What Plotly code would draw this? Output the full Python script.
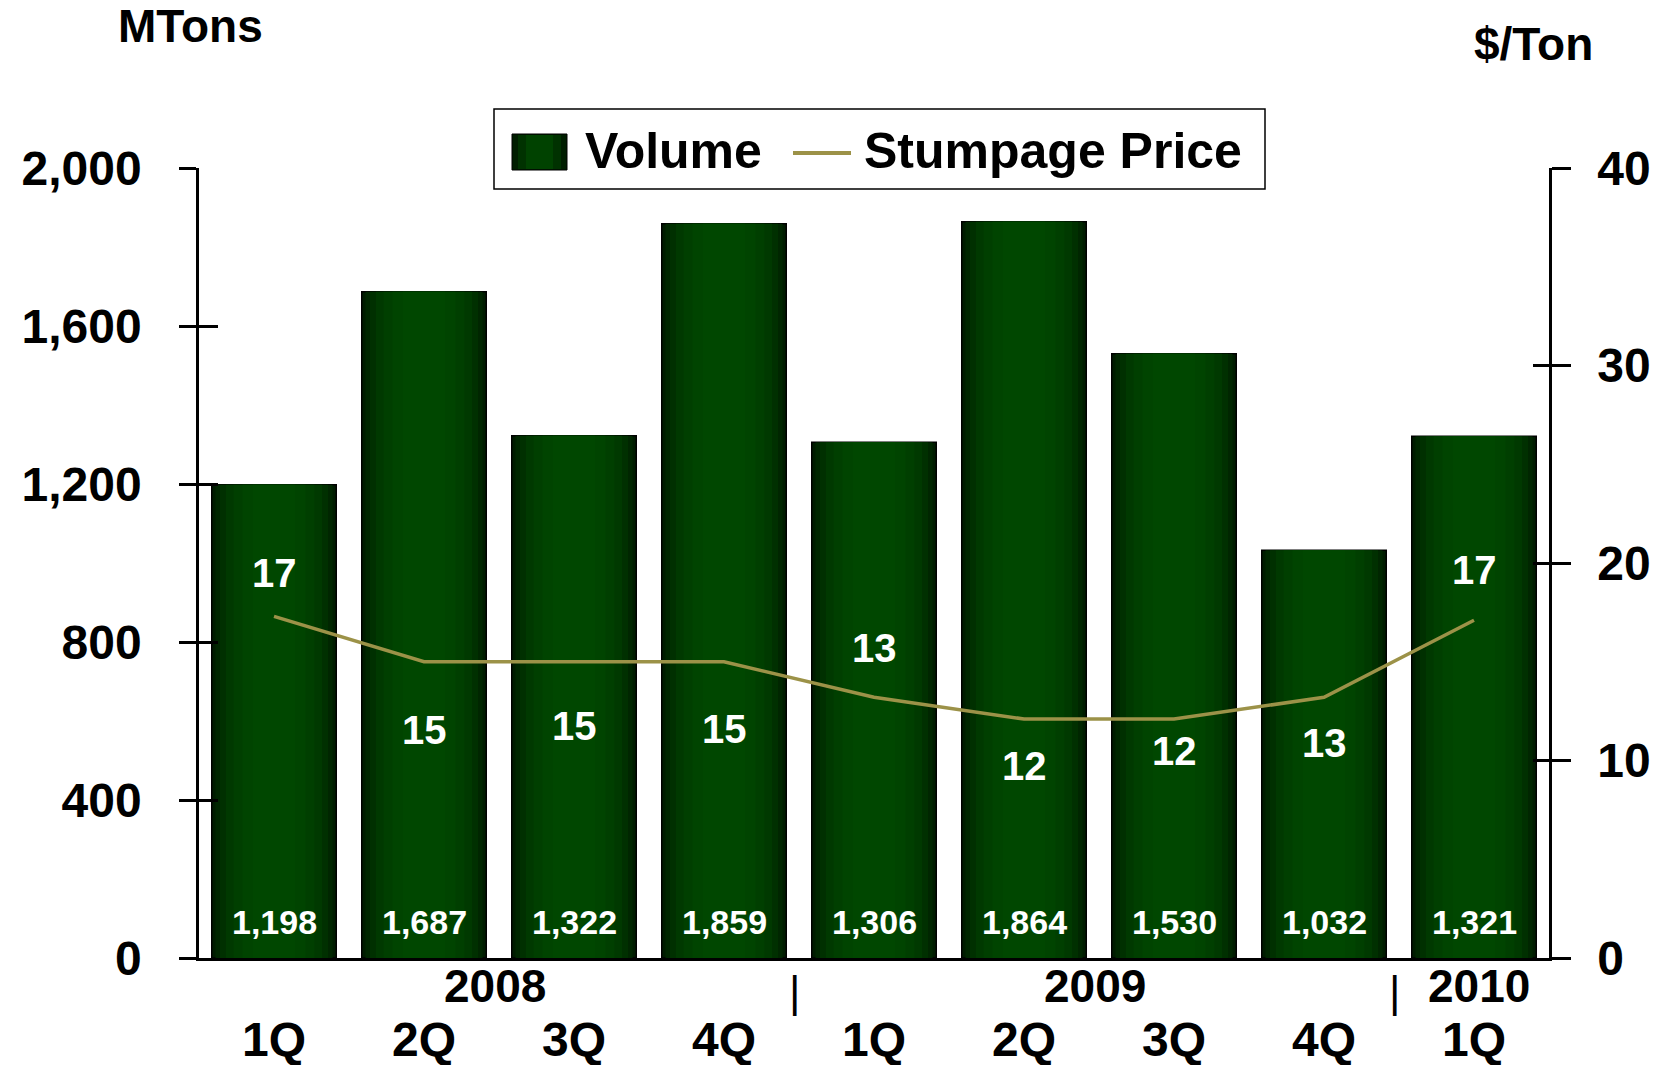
import plotly.graph_objects as go

# ---------------- data ----------------
quarters = ["1Q", "2Q", "3Q", "4Q", "1Q", "2Q", "3Q", "4Q", "1Q"]
years = ["2008", "2009", "2010"]
volume = [1198, 1687, 1322, 1859, 1306, 1864, 1530, 1032, 1321]
price = [17.3, 15.0, 15.0, 15.0, 13.2, 12.1, 12.1, 13.2, 17.1]
vol_ticks = [0, 400, 800, 1200, 1600, 2000]
price_ticks = [0, 10, 20, 30, 40]

# ---------------- layout helpers ----------------
W, H = 1662, 1065
L, R, T, B = 199, 1549, 168, 958


def px(x):
    return (x - L) / (R - L)


def py(y):
    return (B - y) / (B - T)


FONT = "Liberation Sans, Arial, Helvetica, sans-serif"
xs = list(range(len(volume)))

# gradient imitation: nested bars (width, colour)
layers = [
    (0.83, "rgb(0,28,0)"),
    (0.78, "rgb(0,38,0)"),
    (0.72, "rgb(0,48,0)"),
    (0.64, "rgb(0,57,0)"),
    (0.54, "rgb(0,63,0)"),
    (0.42, "rgb(0,68,0)"),
    (0.28, "rgb(0,71,0)"),
]
price_label_shift = [43, -68, -64, -67, 49, -47, -32, -46, 50]

fig = go.Figure()
for i, (w, c) in enumerate(layers):
    fig.add_trace(go.Bar(
        x=xs, y=volume, width=w, name="Volume",
        marker=dict(color=c, line=dict(color="black", width=1.5 if i == 0 else 0)),
        showlegend=False, hoverinfo="skip",
    ))

fig.add_trace(go.Scatter(
    x=xs, y=price, mode="lines", name="Stumpage Price", yaxis="y2",
    line=dict(color="#9C9248", width=3.5), showlegend=False,
))
# dummy traces so the inside-tick axes are drawn
fig.add_trace(go.Scatter(x=[0], y=[0], yaxis="y3", mode="markers",
                         marker=dict(opacity=0), showlegend=False, hoverinfo="skip"))
fig.add_trace(go.Scatter(x=[0], y=[0], yaxis="y4", mode="markers",
                         marker=dict(opacity=0), showlegend=False, hoverinfo="skip"))

tickfont = dict(family=FONT, size=48, color="black", weight="bold")

fig.update_layout(
    width=W, height=H,
    margin=dict(l=L, r=W - R, t=T, b=H - B, autoexpand=False),
    paper_bgcolor="white", plot_bgcolor="white",
    barmode="overlay",
    font=dict(family=FONT, color="black"),
    xaxis=dict(
        range=[-0.5, len(volume) - 0.5], tickvals=xs, ticktext=quarters,
        showline=True, linecolor="black", linewidth=2.5, ticks="",
        showgrid=False, zeroline=False, tickfont=tickfont,
        ticklabelstandoff=38, automargin=False,
    ),
    yaxis=dict(
        range=[0, 2000], tickvals=vol_ticks, ticktext=[f"{v:,}" for v in vol_ticks],
        showline=True, linecolor="black", linewidth=2.5,
        ticks="outside", ticklen=17, tickwidth=3, tickcolor="black",
        showgrid=False, zeroline=False, tickfont=tickfont, ticklabelstandoff=28,
        automargin=False,
    ),
    yaxis2=dict(
        overlaying="y", side="right", anchor="x",
        range=[0, 40], tickvals=price_ticks,
        showline=True, linecolor="black", linewidth=2.5,
        ticks="outside", ticklen=19, tickwidth=3, tickcolor="black",
        showgrid=False, zeroline=False, tickfont=tickfont, ticklabelstandoff=17,
        automargin=False,
    ),
    yaxis3=dict(
        overlaying="y", side="left", anchor="x",
        range=[0, 2000], tickvals=vol_ticks, ticks="inside", ticklen=19,
        tickwidth=3, tickcolor="black", showticklabels=False,
        showline=False, showgrid=False, zeroline=False, automargin=False,
    ),
    yaxis4=dict(
        overlaying="y", side="right", anchor="x",
        range=[0, 40], tickvals=price_ticks, ticks="inside", ticklen=16,
        tickwidth=3, tickcolor="black", showticklabels=False,
        showline=False, showgrid=False, zeroline=False, automargin=False,
    ),
)

ann = []
# bar value labels
for i, v in enumerate(volume):
    ann.append(dict(x=i, y=0, xref="x", yref="y", text=f"{v:,}", showarrow=False,
                    yanchor="middle", yshift=36,
                    font=dict(family=FONT, size=34, color="white", weight="bold")))
# price labels
for i, p in enumerate(price):
    ann.append(dict(x=i, y=p, xref="x", yref="y2", text=f"{round(p)}", showarrow=False,
                    yanchor="middle", yshift=price_label_shift[i],
                    font=dict(family=FONT, size=40, color="white", weight="bold")))
# year row
for yr, xpos in zip(years, [1.47, 5.47, 8.03]):
    ann.append(dict(x=xpos, y=py(986), xref="x", yref="paper", text=yr, showarrow=False,
                    yanchor="middle", font=dict(family=FONT, size=46, weight="bold")))
for xpos in [3.47, 7.47]:
    ann.append(dict(x=xpos, y=py(991), xref="x", yref="paper", text="|", showarrow=False,
                    yanchor="middle", font=dict(family=FONT, size=44)))
# axis titles
ann.append(dict(x=px(190), y=py(26), xref="paper", yref="paper", text="MTons",
                showarrow=False, xanchor="center", yanchor="middle",
                font=dict(family=FONT, size=46, weight="bold")))
ann.append(dict(x=px(1533), y=py(44), xref="paper", yref="paper", text="$/Ton",
                showarrow=False, xanchor="center", yanchor="middle",
                font=dict(family=FONT, size=46, weight="bold")))
# custom legend texts
ann.append(dict(x=px(583), y=py(151), xref="paper", yref="paper", text="Volume",
                showarrow=False, xanchor="left", yanchor="middle",
                font=dict(family=FONT, size=50, weight="bold")))
ann.append(dict(x=px(862), y=py(151), xref="paper", yref="paper", text="Stumpage Price",
                showarrow=False, xanchor="left", yanchor="middle",
                font=dict(family=FONT, size=50, weight="bold")))

shapes = [
    dict(type="rect", xref="paper", yref="paper", x0=px(494), x1=px(1265),
         y0=py(189), y1=py(109), line=dict(color="black", width=1.5), fillcolor="white"),
    dict(type="rect", xref="paper", yref="paper", x0=px(512), x1=px(567),
         y0=py(170), y1=py(134), line=dict(color="black", width=1), fillcolor="rgb(0,30,0)"),
    dict(type="rect", xref="paper", yref="paper", x0=px(518), x1=px(561),
         y0=py(169), y1=py(135), line=dict(width=0), fillcolor="rgb(0,50,0)"),
    dict(type="rect", xref="paper", yref="paper", x0=px(526), x1=px(553),
         y0=py(169), y1=py(135), line=dict(width=0), fillcolor="rgb(0,66,0)"),
    dict(type="line", xref="paper", yref="paper", x0=px(793), x1=px(851),
         y0=py(153), y1=py(153), line=dict(color="#9C9248", width=4)),
]

fig.update_layout(annotations=ann, shapes=shapes)
fig.write_html("out.html")
